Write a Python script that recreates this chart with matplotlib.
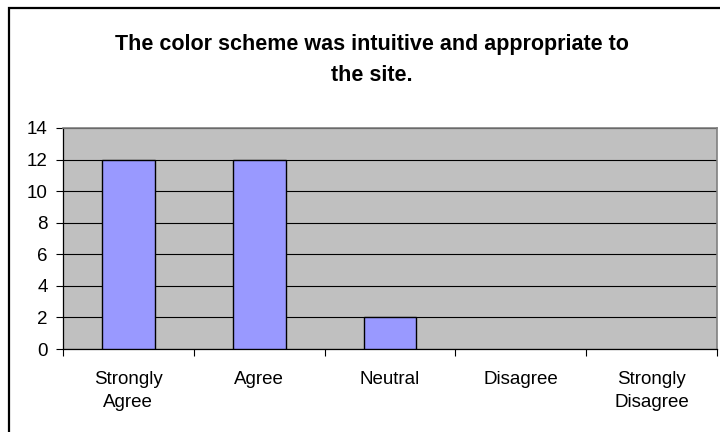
import matplotlib
matplotlib.use("Agg")
import matplotlib.pyplot as plt
from matplotlib.lines import Line2D
import numpy as np

categories = ["Strongly\nAgree", "Agree", "Neutral", "Disagree", "Strongly\nDisagree"]
counts = [12, 12, 2, 0, 0]
title = "The color scheme was intuitive and appropriate to\nthe site."
y_ticks = [0, 2, 4, 6, 8, 10, 12, 14]

plt.rcParams["font.family"] = ["Liberation Sans", "DejaVu Sans"]

W, H = 720, 432
fig = plt.figure(figsize=(W / 100, H / 100), dpi=100)
fig.patch.set_facecolor("white")

# chart frame: top and left edges
fig.lines.append(Line2D([8.5 / W, 8.5 / W, 1.0], [0.0, (H - 7.5) / H, (H - 7.5) / H],
                        transform=fig.transFigure, color="black", linewidth=1.6,
                        solid_joinstyle="miter"))

fig.text(372 / W, (H - 60) / H, title, ha="center", va="center",
         fontsize=15.5, fontweight="bold", linespacing=1.6)

left, right, top, bottom = 63, 717, 128, 349
ax = fig.add_axes([left / W, (H - bottom) / H, (right - left) / W, (bottom - top) / H])
ax.set_facecolor("#C0C0C0")

x = np.arange(len(categories))
edges = ["black" if v > 0 else "none" for v in counts]
ax.bar(x, counts, width=0.405, color="#9999FF", edgecolor=edges, linewidth=1.0, zorder=3)

ax.set_xlim(-0.5, len(categories) - 0.5)
ax.set_ylim(0, 14)
ax.set_yticks(y_ticks)
ax.yaxis.grid(True, color="black", linewidth=0.8, zorder=1)
ax.set_axisbelow(True)

ax.set_xticks(np.arange(-0.5, len(categories), 1.0))
ax.set_xticklabels([])
ax.set_xticks(x, minor=True)
ax.set_xticklabels(categories, minor=True, fontsize=13.5, linespacing=1.45)
ax.tick_params(axis="x", which="major", direction="out", length=5, width=0.8, color="black")
ax.tick_params(axis="x", which="minor", length=0, pad=16)
ax.tick_params(axis="y", direction="out", length=5, width=0.8, labelsize=13.5, pad=6)

for side in ("top", "right"):
    ax.spines[side].set_color("#808080")
    ax.spines[side].set_linewidth(1.2)
for side in ("left", "bottom"):
    ax.spines[side].set_color("black")
    ax.spines[side].set_linewidth(0.9)

fig.savefig("out.png", dpi=100)
